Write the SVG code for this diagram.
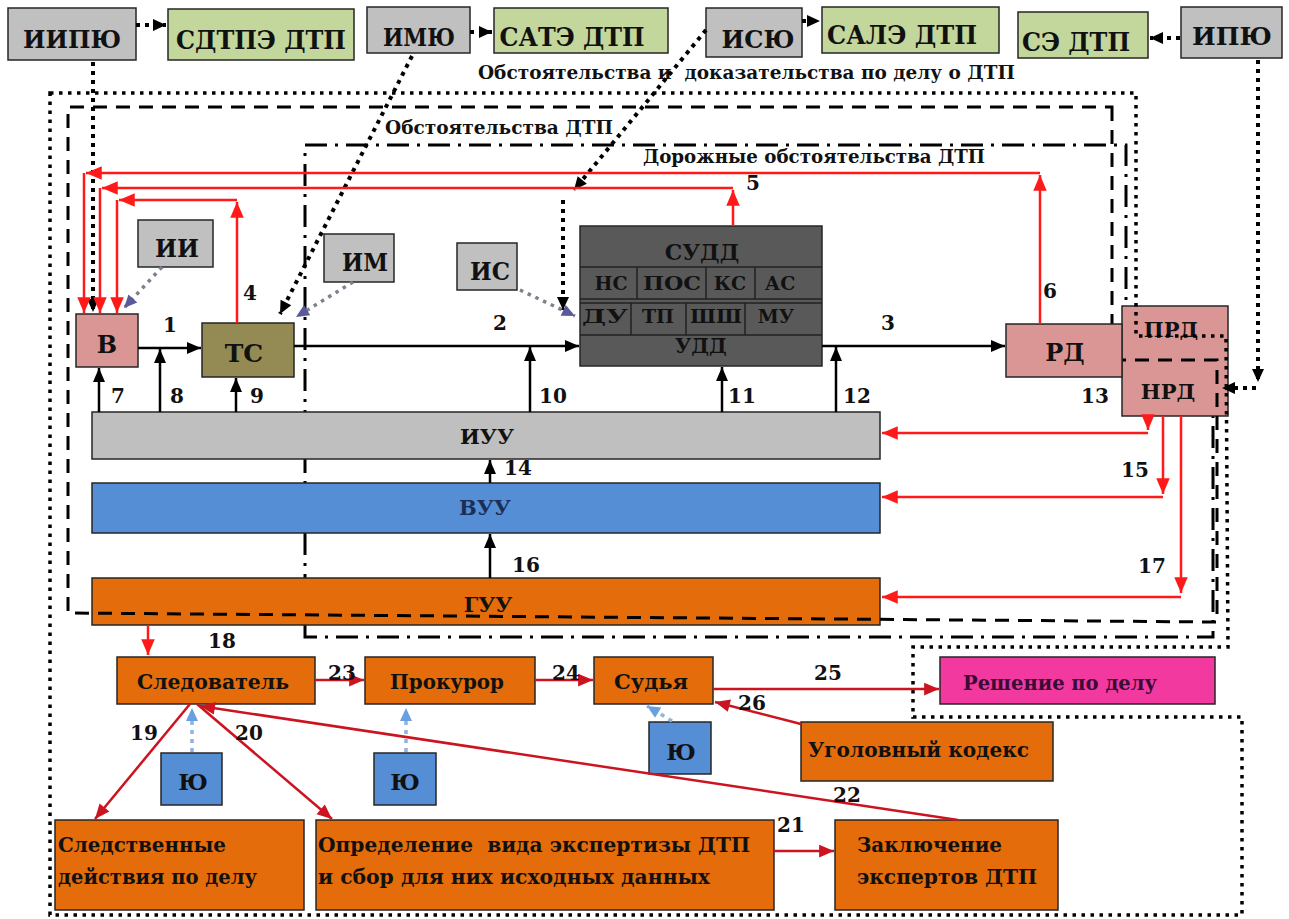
<svg xmlns="http://www.w3.org/2000/svg" width="1289" height="919" viewBox="0 0 1289 919">
<style>
.bx{stroke:#262626;stroke-width:1.5}
.gr{fill:#c0c0c0}.gn{fill:#c3d69b}.pk{fill:#d99694}.ol{fill:#948a54}.dk{fill:#595959}
.bl{fill:#558ed5}.or{fill:#e46c0a}.mg{fill:#f2399f}
.t{font-family:"DejaVu Serif","Liberation Serif",serif;font-weight:700;fill:#111;text-anchor:middle}
.l{text-anchor:start}
.n{font-size:20px}
.blk{stroke:#000;stroke-width:2.5;fill:none;marker-end:url(#ab)}
.red{stroke:#ff1a1a;stroke-width:2.5;fill:none;marker-end:url(#ar)}
.dred{stroke:#cc1420;stroke-width:2.5;fill:none;marker-end:url(#adr)}
.dot{stroke:#000;stroke-width:4;stroke-dasharray:4 5;fill:none;marker-end:url(#ad)}
.gdot{stroke:#7f7f8f;stroke-width:3.5;stroke-dasharray:3.5 5;fill:none;marker-end:url(#ag)}
.bdot{stroke:#8db4e2;stroke-width:3.5;stroke-dasharray:4 5;fill:none;marker-end:url(#abl)}
.bdt{stroke:#000;stroke-width:3.5;stroke-dasharray:3.5 5.5;fill:none}
.bds{stroke:#000;stroke-width:3;stroke-dasharray:14 9;fill:none}
.bdd{stroke:#000;stroke-width:3;stroke-dasharray:22 8 3 8;fill:none}
.sep{stroke:#222;stroke-width:1.5}
</style>
<defs>
<marker id="ab" markerUnits="userSpaceOnUse" markerWidth="16" markerHeight="16" viewBox="0 0 16 16" refX="15" refY="8" orient="auto"><path d="M1,2 L15,8 L1,14 z" fill="#000"/></marker>
<marker id="ar" markerUnits="userSpaceOnUse" markerWidth="18" markerHeight="18" viewBox="0 0 16 16" refX="15" refY="8" orient="auto"><path d="M1,2 L15,8 L1,14 z" fill="#ff1a1a"/></marker>
<marker id="adr" markerUnits="userSpaceOnUse" markerWidth="17" markerHeight="17" viewBox="0 0 16 16" refX="15" refY="8" orient="auto"><path d="M1,2 L15,8 L1,14 z" fill="#cc1420"/></marker>
<marker id="ad" markerUnits="userSpaceOnUse" markerWidth="16" markerHeight="16" viewBox="0 0 16 16" refX="15" refY="8" orient="auto"><path d="M2,2 L15,8 L2,14 z" fill="#000"/></marker>
<marker id="ag" markerUnits="userSpaceOnUse" markerWidth="16" markerHeight="16" viewBox="0 0 16 16" refX="15" refY="8" orient="auto"><path d="M2,2 L15,8 L2,14 z" fill="#5a5a9a"/></marker>
<marker id="abl" markerUnits="userSpaceOnUse" markerWidth="16" markerHeight="16" viewBox="0 0 16 16" refX="15" refY="8" orient="auto"><path d="M2,2 L15,8 L2,14 z" fill="#6a9fe0"/></marker>
</defs>
<rect width="1289" height="919" fill="#fff"/>

<g id="region-road">
<path class="bdd" d="M305,637 L305,145 L1126,145 L1126,349 L1213,349 L1213,637 Z"/>
</g>

<g id="n-iipyu"><rect class="bx gr" x="8" y="8" width="128" height="52"/><text class="t" x="72" y="48" font-size="25" textLength="98" lengthAdjust="spacingAndGlyphs">ИИПЮ</text></g>
<g id="n-sdtpe"><rect class="bx gn" x="168" y="9" width="186" height="51"/><text class="t" x="261" y="49" font-size="26" textLength="170" lengthAdjust="spacingAndGlyphs">СДТПЭ ДТП</text></g>
<g id="n-imyu"><rect class="bx gr" x="367" y="7" width="103" height="46"/><text class="t" x="419" y="46" font-size="25" textLength="72" lengthAdjust="spacingAndGlyphs">ИМЮ</text></g>
<g id="n-sate"><rect class="bx gn" x="494" y="8" width="174" height="45"/><text class="t" x="572" y="46" font-size="26" textLength="145" lengthAdjust="spacingAndGlyphs">САТЭ ДТП</text></g>
<g id="n-isyu"><rect class="bx gr" x="706" y="8" width="96" height="49"/><text class="t" x="758" y="48" font-size="25" textLength="73" lengthAdjust="spacingAndGlyphs">ИСЮ</text></g>
<g id="n-sale"><rect class="bx gn" x="822" y="7" width="177" height="46"/><text class="t" x="902" y="44" font-size="26" textLength="150" lengthAdjust="spacingAndGlyphs">САЛЭ ДТП</text></g>
<g id="n-se"><rect class="bx gn" x="1018" y="12" width="130" height="46"/><text class="t" x="1076" y="51" font-size="26" textLength="108" lengthAdjust="spacingAndGlyphs">СЭ ДТП</text></g>
<g id="n-ipyu"><rect class="bx gr" x="1181" y="7" width="101" height="51"/><text class="t" x="1232" y="45" font-size="25" textLength="80" lengthAdjust="spacingAndGlyphs">ИПЮ</text></g>

<g id="n-ii"><rect class="bx gr" x="138" y="220" width="75" height="47"/><text class="t" x="177" y="257" font-size="24" textLength="44" lengthAdjust="spacingAndGlyphs">ИИ</text></g>
<g id="n-im"><rect class="bx gr" x="324" y="234" width="70" height="48"/><text class="t" x="365" y="271" font-size="24" textLength="46" lengthAdjust="spacingAndGlyphs">ИМ</text></g>
<g id="n-is"><rect class="bx gr" x="457" y="243" width="60" height="47"/><text class="t" x="490" y="280" font-size="24" textLength="40" lengthAdjust="spacingAndGlyphs">ИС</text></g>

<g id="n-v"><rect class="bx pk" x="76" y="314" width="62" height="53"/><text class="t" x="107" y="353" font-size="24">В</text></g>
<g id="n-ts"><rect class="bx ol" x="202" y="323" width="92" height="54"/><text class="t" x="244" y="362" font-size="25">ТС</text></g>

<g id="n-sudd">
<rect class="bx dk" x="580" y="226" width="242" height="140"/>
<line class="sep" x1="580" y1="267" x2="822" y2="267"/>
<line class="sep" x1="580" y1="299" x2="822" y2="299"/>
<line class="sep" x1="580" y1="303" x2="822" y2="303"/>
<line class="sep" x1="580" y1="335" x2="822" y2="335"/>
<line class="sep" x1="637" y1="267" x2="637" y2="299"/>
<line class="sep" x1="706" y1="267" x2="706" y2="299"/>
<line class="sep" x1="755" y1="267" x2="755" y2="299"/>
<line class="sep" x1="631" y1="303" x2="631" y2="335"/>
<line class="sep" x1="686" y1="303" x2="686" y2="335"/>
<line class="sep" x1="745" y1="303" x2="745" y2="335"/>
<text class="t" x="702" y="260" font-size="22">СУДД</text>
<text class="t" x="611" y="290" font-size="19">НС</text>
<text class="t" x="672" y="290" font-size="19" textLength="58" lengthAdjust="spacingAndGlyphs">ПОС</text>
<text class="t" x="730" y="290" font-size="19">КС</text>
<text class="t" x="780" y="290" font-size="19">АС</text>
<text class="t" x="605" y="323" font-size="19" textLength="46" lengthAdjust="spacingAndGlyphs">ДУ</text>
<text class="t" x="658" y="323" font-size="19">ТП</text>
<text class="t" x="716" y="323" font-size="19" textLength="52" lengthAdjust="spacingAndGlyphs">ШШ</text>
<text class="t" x="776" y="323" font-size="19">МУ</text>
<text class="t" x="701" y="353" font-size="20">УДД</text>
</g>

<g id="n-prd"><rect class="bx pk" x="1122" y="306" width="106" height="110"/><text class="t" x="1171" y="337" font-size="21">ПРД</text><text class="t" x="1168" y="399" font-size="21">НРД</text></g>

<g id="n-iuu"><rect class="bx" fill="#bfbfbf" x="92" y="412" width="788" height="47"/><text class="t" x="487" y="444" font-size="21">ИУУ</text></g>
<g id="n-vuu"><rect class="bx bl" x="92" y="483" width="788" height="50"/><text class="t" x="485" y="515" font-size="21" style="fill:#1a2f57">ВУУ</text></g>
<g id="n-guu"><rect class="bx or" x="92" y="578" width="788" height="47"/><text class="t" x="488" y="612" font-size="21">ГУУ</text></g>

<g id="regions">
<path class="bds" d="M1112,107 L1112,360 L1217,360 L1217,622 L68,613 L68,107 Z"/>
<path class="bdt" d="M50,93 L1136,93 L1136,336 L1226,336 L1228,647 L913,647 L913,717 L1242,717 L1242,915 L50,915 Z"/>
</g>

<g id="n-rd"><rect class="bx pk" x="1006" y="324" width="116" height="53"/><text class="t" x="1065" y="361" font-size="24">РД</text></g>

<g id="n-sled"><rect class="bx or" x="117" y="657" width="198" height="47"/><text class="t" x="213" y="689" font-size="21" textLength="152" lengthAdjust="spacingAndGlyphs">Следователь</text></g>
<g id="n-prok"><rect class="bx or" x="365" y="657" width="170" height="47"/><text class="t" x="447" y="689" font-size="21" textLength="114" lengthAdjust="spacingAndGlyphs">Прокурор</text></g>
<g id="n-sud"><rect class="bx or" x="594" y="657" width="119" height="47"/><text class="t" x="651" y="689" font-size="21" textLength="74" lengthAdjust="spacingAndGlyphs">Судья</text></g>
<g id="n-resh"><rect class="bx mg" x="940" y="657" width="275" height="47"/><text class="t l" x="963" y="690" font-size="21" textLength="194" lengthAdjust="spacingAndGlyphs" style="fill:#3a0a36">Решение по делу</text></g>
<g id="n-uk"><rect class="bx or" x="801" y="722" width="252" height="59"/><text class="t l" x="808" y="757" font-size="21" textLength="221" lengthAdjust="spacingAndGlyphs">Уголовный кодекс</text></g>
<g id="n-yu1"><rect class="bx bl" x="161" y="753" width="61" height="52"/><text class="t" x="193" y="790" font-size="23">Ю</text></g>
<g id="n-yu2"><rect class="bx bl" x="374" y="753" width="62" height="52"/><text class="t" x="405" y="790" font-size="23">Ю</text></g>
<g id="n-yu3"><rect class="bx bl" x="649" y="722" width="62" height="52"/><text class="t" x="681" y="760" font-size="23">Ю</text></g>
<g id="n-sd"><rect class="bx or" x="55" y="820" width="249" height="90"/><text class="t l" x="58" y="852" font-size="21" textLength="168" lengthAdjust="spacingAndGlyphs">Следственные</text><text class="t l" x="58" y="884" font-size="21" textLength="199" lengthAdjust="spacingAndGlyphs">действия по делу</text></g>
<g id="n-opr"><rect class="bx or" x="316" y="820" width="458" height="90"/><text class="t l" x="318" y="852" font-size="21" textLength="432" lengthAdjust="spacingAndGlyphs" xml:space="preserve">Определение  вида экспертизы ДТП</text><text class="t l" x="318" y="884" font-size="21" textLength="392" lengthAdjust="spacingAndGlyphs">и сбор для них исходных данных</text></g>
<g id="n-zak"><rect class="bx or" x="835" y="820" width="223" height="90"/><text class="t l" x="857" y="852" font-size="21" textLength="145" lengthAdjust="spacingAndGlyphs">Заключение</text><text class="t l" x="857" y="884" font-size="21" textLength="180" lengthAdjust="spacingAndGlyphs">экспертов ДТП</text></g>

<g id="labels">
<text class="t l" x="478" y="79" font-size="19" textLength="537" lengthAdjust="spacingAndGlyphs" xml:space="preserve">Обстоятельства и  доказательства по делу о ДТП</text>
<text class="t l" x="385" y="134" font-size="19" textLength="228" lengthAdjust="spacingAndGlyphs">Обстоятельства ДТП</text>
<text class="t l" x="643" y="163" font-size="19" textLength="342" lengthAdjust="spacingAndGlyphs">Дорожные обстоятельства ДТП</text>
</g>

<g id="connectors">
<path class="dot" d="M136,25 H166"/>
<path class="dot" d="M470,32 H492"/>
<path class="dot" d="M802,21 H820"/>
<path class="dot" d="M1180,38 H1150"/>
<path class="dot" d="M93,62 V312"/>
<path class="dot" d="M412,56 L280,314"/>
<path class="dot" d="M706,30 L574,190"/>
<path class="dot" d="M563,200 V310"/>
<path class="dot" d="M1258,60 V382"/>
<path class="dot" d="M1256,388 H1222"/>
<path class="gdot" d="M162,267 L124,308"/>
<path class="gdot" d="M353,282 L296,317"/>
<path class="gdot" d="M520,290 L575,316"/>

<path class="blk" d="M138,348 H201"/>
<path class="blk" d="M294,346 H579"/>
<path class="blk" d="M822,346 H1005"/>
<path class="blk" d="M99,412 V368"/>
<path class="blk" d="M160,412 V349"/>
<path class="blk" d="M236,412 V378"/>
<path class="blk" d="M530,412 V347"/>
<path class="blk" d="M722,412 V367"/>
<path class="blk" d="M836,412 V347"/>
<path class="blk" d="M490,483 V460"/>
<path class="blk" d="M490,578 V534"/>

<path class="red" d="M1040,324 V175"/>
<path class="red" d="M1040,173 H86"/>
<path class="red" d="M84,173 V313"/>
<path class="red" d="M733,226 V190"/>
<path class="red" d="M733,188 H102"/>
<path class="red" d="M100,188 V313"/>
<path class="red" d="M237,323 V202"/>
<path class="red" d="M237,200 H119"/>
<path class="red" d="M117,200 V313"/>
<path class="red" d="M1148,416 V430"/>
<path class="red" d="M1148,433 H882"/>
<path class="red" d="M1163,416 V494"/>
<path class="red" d="M1163,497 H882"/>
<path class="red" d="M1181,416 V593"/>
<path class="red" d="M1181,597 H882"/>
<path class="red" d="M148,625 V655"/>

<path class="dred" d="M315,680 H364"/>
<path class="dred" d="M535,680 H593"/>
<path class="dred" d="M713,689 H939"/>
<path class="dred" d="M801,724 L715,702"/>
<path class="dred" d="M190,704 L95,819"/>
<path class="dred" d="M197,704 L332,819"/>
<path class="dred" d="M958,820 L200,706"/>
<path class="dred" d="M774,851 H834"/>

<path class="bdot" d="M192,752 V708"/>
<path class="bdot" d="M406,752 V708"/>
<path class="bdot" d="M672,721 L647,706"/>
</g>

<g id="numbers">
<text class="t n" x="170" y="332">1</text>
<text class="t n" x="500" y="330">2</text>
<text class="t n" x="888" y="330">3</text>
<text class="t n" x="250" y="300">4</text>
<text class="t n" x="753" y="190">5</text>
<text class="t n" x="1050" y="298">6</text>
<text class="t n" x="118" y="403">7</text>
<text class="t n" x="177" y="403">8</text>
<text class="t n" x="257" y="403">9</text>
<text class="t n" x="553" y="403">10</text>
<text class="t n" x="742" y="403">11</text>
<text class="t n" x="857" y="403">12</text>
<text class="t n" x="1095" y="403">13</text>
<text class="t n" x="518" y="475">14</text>
<text class="t n" x="1135" y="477">15</text>
<text class="t n" x="526" y="572">16</text>
<text class="t n" x="1152" y="573">17</text>
<text class="t n" x="222" y="648">18</text>
<text class="t n" x="144" y="740">19</text>
<text class="t n" x="249" y="740">20</text>
<text class="t n" x="791" y="832">21</text>
<text class="t n" x="847" y="802">22</text>
<text class="t n" x="342" y="680">23</text>
<text class="t n" x="566" y="680">24</text>
<text class="t n" x="828" y="680">25</text>
<text class="t n" x="752" y="710">26</text>
</g>
</svg>
